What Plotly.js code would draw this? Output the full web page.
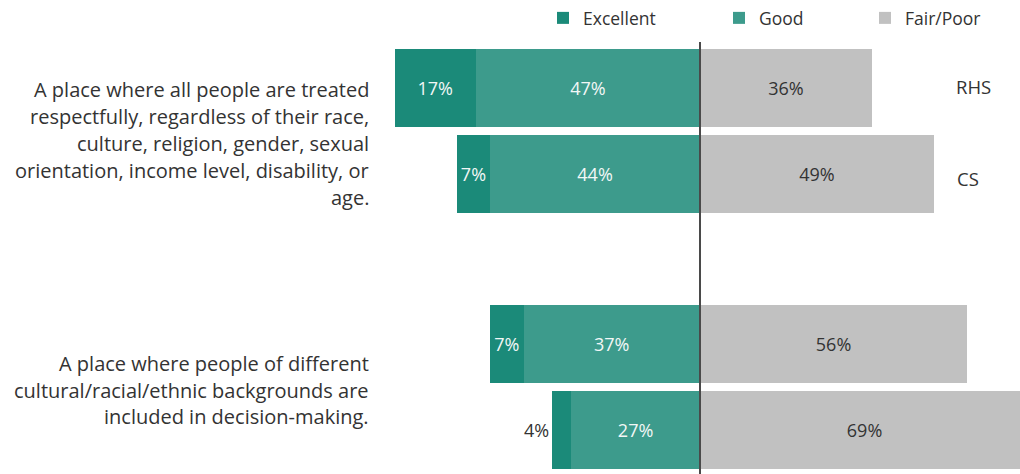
<!DOCTYPE html>
<html>
<head>
<meta charset="utf-8">
<script src="https://cdn.plot.ly/plotly-3.0.1.min.js"></script>
<style>html,body{margin:0;padding:0;background:#fff;}#chart{width:1020px;height:474px;}</style>
</head>
<body>
<div id="chart"></div>
<script>
// ---- data ----
const groupLabelLines = [
  ["A place where all people are treated", "respectfully, regardless of their race,", "culture, religion, gender, sexual", "orientation, income level, disability, or", "age."],
  ["A place where people of different", "cultural/racial/ethnic backgrounds are", "included in decision-making."]
];
const surveys = ["RHS", "CS"];
const surveyLabelShown = [true, true, false, false];
const excellent = [17, 7, 7, 4];
const good = [47, 44, 37, 27];
const fairPoor = [36, 49, 56, 69];
const seriesNames = ["Excellent", "Good", "Fair/Poor"];

// ---- layout helpers ----
const W = 1020, H = 474;
const nRows = excellent.length;
const yPos = [];
for (let i = 0; i < nRows; i++) { const g = Math.floor(i / 2), s = i % 2; yPos.push(g * 3 + s); }
const rowLabel = yPos.map((_, i) => surveys[i % 2]);

const cExc = "#1b8a79", cGood = "#3d9b8c", cFair = "#c1c1c1";
const font = "Open Sans, sans-serif";
const txt = "#333333";
const pct = v => v + "%";

const traces = [
  {
    type: "bar", orientation: "h", name: seriesNames[1], legend: "legend2",
    y: yPos, x: good.map(v => -v), text: good.map(pct), texttemplate: "%{text}",
    textposition: "inside", insidetextanchor: "middle",
    insidetextfont: {family: font, size: 18, color: "#f2f7f6"},
    marker: {color: cGood, line: {width: 0}}, width: 0.913, hoverinfo: "skip"
  },
  {
    type: "bar", orientation: "h", name: seriesNames[0], legend: "legend",
    y: yPos, x: excellent.map(v => -v), text: excellent.map(pct), texttemplate: "%{text}",
    textposition: "auto", insidetextanchor: "middle",
    insidetextfont: {family: font, size: 18, color: "#f2f7f6"},
    outsidetextfont: {family: font, size: 18, color: txt},
    marker: {color: cExc, line: {width: 0}}, width: 0.913, hoverinfo: "skip"
  },
  {
    type: "bar", orientation: "h", name: seriesNames[2], legend: "legend3",
    y: yPos, x: fairPoor, text: fairPoor.map(pct), texttemplate: "%{text}",
    textposition: "inside", insidetextanchor: "middle",
    insidetextfont: {family: font, size: 18, color: txt},
    marker: {color: cFair, line: {width: 0}}, width: 0.913, hoverinfo: "skip"
  }
];

const annotations = [];
const lineGap = 26.8;
const groupCentersPx = [143.5, 390];
groupLabelLines.forEach((lines, g) => {
  const n = lines.length;
  lines.forEach((t, k) => {
    const py = groupCentersPx[g] + (k - (n - 1) / 2) * lineGap;
    annotations.push({
      text: t, xref: "paper", yref: "paper", x: 371 / W, y: 1 - py / H,
      xanchor: "right", yanchor: "middle", showarrow: false,
      font: {family: font, size: 20, color: txt}
    });
  });
});
const surveyLabelPx = [[973, 87], [968, 178]];
rowLabel.forEach((t, i) => {
  if (!surveyLabelShown[i]) return;
  annotations.push({
    text: t, xref: "paper", yref: "paper", x: surveyLabelPx[i][0] / W, y: 1 - surveyLabelPx[i][1] / H,
    xanchor: "center", yanchor: "middle", showarrow: false,
    font: {family: font, size: 18.5, color: txt}
  });
});

const legendBase = {orientation: "h", yanchor: "middle", xanchor: "left", y: 1 - 18 / H,
  font: {family: font, size: 17.5, color: txt}, bgcolor: "rgba(0,0,0,0)", itemclick: false, itemdoubleclick: false};

const layout = {
  width: W, height: H,
  margin: {l: 0, r: 0, t: 0, b: 0},
  paper_bgcolor: "#fff", plot_bgcolor: "#fff",
  barmode: "relative", bargap: 0,
  showlegend: true,
  legend: Object.assign({}, legendBase, {x: 543 / W}),
  legend2: Object.assign({}, legendBase, {x: 719 / W}),
  legend3: Object.assign({}, legendBase, {x: 865 / W}),
  xaxis: {range: [-700 / 4.77, 320 / 4.77], visible: false, fixedrange: true, zeroline: false, showgrid: false},
  yaxis: {range: [(H - 88.3) / 85.35, -88.3 / 85.35], visible: false, fixedrange: true, zeroline: false, showgrid: false},
  shapes: [{type: "line", xref: "x", yref: "paper", x0: 0, x1: 0, y0: 0, y1: 1 - 42 / H,
    line: {color: "#4a4a4a", width: 2}}],
  annotations: annotations,
  font: {family: font}
};

Plotly.newPlot("chart", traces, layout, {displayModeBar: false, staticPlot: true});
</script>
</body>
</html>
